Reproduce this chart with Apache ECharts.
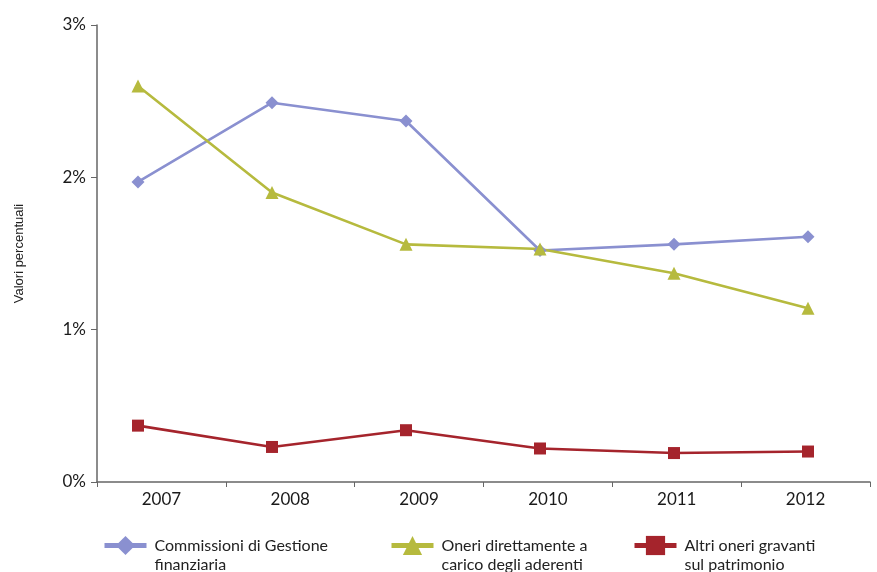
<!DOCTYPE html>
<html>
<head>
<meta charset="utf-8">
<title>Valori percentuali</title>
<script src="https://cdn.jsdelivr.net/npm/echarts@6/dist/echarts.min.js"></script>
<style>
  html, body { margin: 0; padding: 0; background: #fff; }
  #chart { width: 877px; height: 572px; }
</style>
</head>
<body>
<div id="chart"></div>
<script>
// dati
var anni = ['2007', '2008', '2009', '2010', '2011', '2012'];
var yTicks = [0, 1, 2, 3];
var commissioni = [1.97, 2.49, 2.37, 1.52, 1.56, 1.61];
var oneriAderenti = [2.60, 1.90, 1.56, 1.53, 1.37, 1.14];
var altriOneri = [0.37, 0.23, 0.34, 0.22, 0.19, 0.20];

var nomi = [
  'Commissioni di Gestione\nfinanziaria',
  'Oneri direttamente a\ncarico degli aderenti',
  'Altri oneri gravanti\nsul patrimonio'
];
var colori = ['#8a90d0', '#b6ba3e', '#a5242c'];
var simboli = ['diamond', 'triangle', 'rect'];
var serieDati = [commissioni, oneriAderenti, altriOneri];

// una legenda per voce, così la posizione è come nell'originale
function legenda(i, left) {
  return {
    left: left,
    top: 517,
    padding: 0,
    itemWidth: 42,
    itemHeight: 24,
    data: [nomi[i]],
    lineStyle: { width: 5 },
    // riga vuota davanti: la prima riga resta all'altezza del simbolo
    formatter: function (n) { return '\n' + n; },
    textStyle: {
      fontFamily: 'Lato',
      fontSize: 16,
      lineHeight: 19,
      color: '#222',
      padding: [0, 0, 0, 3]
    },
    selectedMode: false
  };
}

function getLineChart() {
  var chart = echarts.init(document.getElementById('chart'));
  var option = {
    backgroundColor: '#fff',
    animation: false,
    legend: [legenda(0, 102), legenda(1, 389), legenda(2, 632)],
    grid: [
      // griglia degli assi
      { left: 97, right: 7, top: 25, bottom: 90 },
      // griglia delle linee
      { left: 138, right: 69, top: 25, bottom: 90 }
    ],
    xAxis: [{
      type: 'category',
      gridIndex: 0,
      data: anni,
      boundaryGap: true,
      axisLine: { lineStyle: { color: '#666', width: 1.5 } },
      axisTick: { show: true, length: 5, lineStyle: { color: '#666' } },
      axisLabel: { fontFamily: 'Lato', fontSize: 17, color: '#1a1a1a', margin: 9 }
    }, {
      type: 'category',
      gridIndex: 1,
      data: anni,
      boundaryGap: false,
      show: false
    }],
    yAxis: [{
      type: 'value',
      gridIndex: 0,
      min: yTicks[0],
      max: yTicks[yTicks.length - 1],
      interval: 1,
      name: 'Valori percentuali',
      nameLocation: 'middle',
      nameGap: 71,
      nameTextStyle: { fontFamily: 'Liberation Sans', fontSize: 13, color: '#222' },
      splitLine: { show: false },
      axisLine: { show: true, lineStyle: { color: '#666', width: 1.5 } },
      axisTick: { show: true, length: 6, lineStyle: { color: '#666' } },
      axisLabel: {
        fontFamily: 'Lato', fontSize: 17, color: '#1a1a1a', margin: 11,
        formatter: '{value}%'
      }
    }, {
      type: 'value',
      gridIndex: 1,
      min: yTicks[0],
      max: yTicks[yTicks.length - 1],
      show: false,
      splitLine: { show: false }
    }],
    series: serieDati.map(function (d, i) {
      return {
        name: nomi[i],
        type: 'line',
        xAxisIndex: 1,
        yAxisIndex: 1,
        data: d,
        symbol: simboli[i],
        symbolSize: simboli[i] === 'rect' ? 12 : 13,
        showAllSymbol: true,
        color: colori[i],
        lineStyle: { color: colori[i], width: 2.6 },
        itemStyle: { color: colori[i] }
      };
    })
  };
  chart.setOption(option);
}

getLineChart();
</script>
</body>
</html>
